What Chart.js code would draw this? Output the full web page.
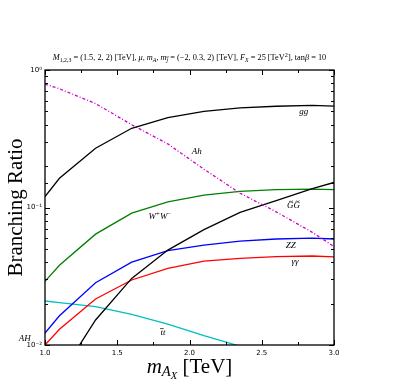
<!DOCTYPE html>
<html><head><meta charset="utf-8">
<script src="https://cdn.jsdelivr.net/npm/chart.js@4.4.1/dist/chart.umd.min.js"></script>
<style>html,body{margin:0;padding:0;background:#fff}#wrap{width:409px;height:389px}</style>
</head><body><div id="wrap"><canvas id="c" width="409" height="389"></canvas></div>
<script>
const masses = [1.0, 1.1, 1.35, 1.6, 1.85, 2.1, 2.35, 2.6, 2.85, 3.0];
const br_gg   = [0.12, 0.163, 0.27, 0.377, 0.45, 0.50, 0.53, 0.545, 0.553, 0.547];
const br_Ah   = [0.79, 0.73, 0.57, 0.40, 0.29, 0.19, 0.127, 0.093, 0.066, 0.052];
const br_GG   = [0.002, 0.0059, 0.0152, 0.0305, 0.049, 0.069, 0.092, 0.112, 0.137, 0.152];
const br_WW   = [0.029, 0.038, 0.064, 0.091, 0.110, 0.123, 0.131, 0.135, 0.136, 0.135];
const br_ZZ   = [0.0122, 0.0163, 0.0284, 0.040, 0.0485, 0.0533, 0.057, 0.059, 0.0598, 0.059];
const br_aa   = [0.0100, 0.013, 0.0216, 0.0297, 0.0361, 0.0408, 0.0427, 0.0439, 0.0444, 0.0437];
const br_tt   = [0.0209, 0.0203, 0.019, 0.0167, 0.0142, 0.0117, 0.0098, 0.008, 0.0065, 0.0058];
const yMajorLabels = {1: '10⁰', 0.1: '10⁻¹', 0.01: '10⁻²'};
// curve labels: [text segments, x (TeV), y (BR)]
const curveLabels = [
  [[['gg','i']], 2.79, 0.50],
  [[['Ah','i']], 2.05, 0.255],
  [[['G','i~'],['G','i~']], 2.72, 0.1025],
  [[['W','i'],['+','sup'],['W','i'],['−','sup']], 1.795, 0.0853],
  [[['ZZ','i']], 2.70, 0.0527],
  [[['γγ','i']], 2.73, 0.0402],
  [[['t','i-'],['t','i']], 1.816, 0.0123],
  [[['AH','i']], 0.86, 0.0112]
];

function pts(arr){ return masses.map((m,i)=>({x:m,y:arr[i]})); }
const SERIF = '"Liberation Serif", "DejaVu Serif", serif';

function drawRich(ctx, segs, cx, cy, size, align){
  const parts = segs.map(([t,st])=>{
    let fs=size, dy=0, it=false, acc=null;
    if(st==='i') it=true;
    if(st==='i~'){it=true; acc='~';}
    if(st==='i-'){it=true; acc='-';}
    if(st==='sub'||st==='subi'){fs=size*0.7; dy=size*0.25; it = st==='subi';}
    if(st==='subi~'){fs=size*0.7; dy=size*0.25; it=true; acc='~';}
    if(st==='sub2'){fs=size*0.5; dy=size*0.42; it=true;}
    if(st==='sup'){fs=size*0.75; dy=-size*0.35;}
    const font=(it?'italic ':'')+fs+'px '+SERIF;
    ctx.font=font;
    return {t,font,dy,fs,acc,w:ctx.measureText(t).width};
  });
  const total = parts.reduce((a,p)=>a+p.w,0);
  let x = align==='left'? cx : cx-total/2;
  ctx.textBaseline='middle'; ctx.textAlign='left'; ctx.fillStyle='#000'; ctx.strokeStyle='#000';
  for(const p of parts){
    ctx.font=p.font; ctx.fillText(p.t,x,cy+p.dy);
    if(p.acc){
      const ax = x + p.w*0.6;
      ctx.save(); ctx.lineWidth=0.7; ctx.beginPath();
      if(p.acc==='-'){ const ay = cy + p.dy - p.fs*0.45; ctx.moveTo(ax-p.fs*0.2,ay); ctx.lineTo(ax+p.fs*0.2,ay); }
      else {
        const ay = cy + p.dy - p.fs*0.52;
        const hw=p.fs*0.22, h=p.fs*0.07;
        ctx.moveTo(ax-hw,ay+h);
        ctx.bezierCurveTo(ax-hw*0.4,ay-h*2.5, ax+hw*0.0,ay+h*2.5, ax+hw,ay-h);
      }
      ctx.stroke(); ctx.restore();
    }
    x+=p.w;
  }
}

const extras = {
  id:'extras',
  afterDatasetsDraw(chart){
    const {ctx, chartArea:a, scales:{x,y}} = chart;
    ctx.save();
    ctx.strokeStyle='#000'; ctx.lineWidth=1;
    x.ticks.forEach(t=>{
      const px = Math.round(x.getPixelForValue(t.value))+0.5;
      const major = Math.abs(t.value*2-Math.round(t.value*2))<1e-6;
      const L = major?5:3;
      ctx.beginPath(); ctx.moveTo(px,a.bottom); ctx.lineTo(px,a.bottom-L);
      ctx.moveTo(px,a.top); ctx.lineTo(px,a.top+L); ctx.stroke();
    });
    y.ticks.forEach(t=>{
      const py = Math.round(y.getPixelForValue(t.value))+0.5;
      const major = yMajorLabels[t.value]!==undefined;
      const L = major?5:3;
      ctx.beginPath(); ctx.moveTo(a.left,py); ctx.lineTo(a.left+L,py);
      ctx.moveTo(a.right,py); ctx.lineTo(a.right-L,py); ctx.stroke();
    });
    ctx.lineWidth=1.3;
    ctx.strokeRect(a.left,a.top,a.right-a.left,a.bottom-a.top);
    curveLabels.forEach(([segs,mx,by])=>{
      drawRich(ctx, segs, x.getPixelForValue(mx), y.getPixelForValue(by), 9);
    });
    drawRich(ctx, [
      ['M','i'],['1,2,3','sub'],[' = (1.5, 2, 2) [TeV], ','r'],['μ','i'],[', ','r'],
      ['m','i'],['A','subi'],[', ','r'],['m','i'],['j','subi~'],[' = (−2, 0.3, 2) [TeV], ','r'],
      ['F','i'],['X','subi'],[' = 25 [TeV','r'],['2','sup'],['], tan','r'],['β','i'],[' = 10','r']
    ], (a.left+a.right)/2, 58, 8.3);
    drawRich(ctx, [['m','i'],['A','subi'],['X','sub2'],[' [TeV]','r']], (a.left+a.right)/2, 367, 21);
    ctx.translate(16, (a.top+a.bottom)/2);
    ctx.rotate(-Math.PI/2);
    ctx.font='21px '+SERIF; ctx.textAlign='center'; ctx.textBaseline='middle'; ctx.fillStyle='#000';
    ctx.fillText('Branching Ratio',0,0);
    ctx.restore();
  }
};

const ds = (label, arr, color, dash) => ({
  label, data: pts(arr), borderColor: color, backgroundColor: color,
  borderWidth: 1.3, pointRadius: 0, tension: 0, fill: false,
  borderDash: dash || []
});

new Chart(document.getElementById('c'), {
  type: 'line',
  data: { datasets: [
    ds('gg', br_gg, '#000000'),
    ds('Ah', br_Ah, '#cc00cc', [3,2,1,2]),
    ds('GG', br_GG, '#000000'),
    ds('WW', br_WW, '#008000'),
    ds('ZZ', br_ZZ, '#0000ff'),
    ds('aa', br_aa, '#ff0000'),
    ds('tt', br_tt, '#00bfbf')
  ]},
  options: {
    responsive: false, animation: false, devicePixelRatio: 1,
    layout: { padding: { left: 0, top: 70, right: 75, bottom: 0 } },
    plugins: { legend: { display: false }, tooltip: { enabled: false } },
    scales: {
      x: {
        type: 'linear', min: 1, max: 3,
        grid: { display: false, drawTicks: false },
        border: { display: false },
        afterFit(s){ s.height = 44; },
        ticks: {
          stepSize: 0.25, autoSkip: false, maxRotation: 0, padding: 4,
          color: '#000', font: { family: '"DejaVu Sans", sans-serif', size: 7 },
          callback(v){ return Math.abs(v*2-Math.round(v*2))<1e-6 ? v.toFixed(1) : ''; }
        }
      },
      y: {
        type: 'logarithmic', min: 0.01, max: 1,
        grid: { display: false, drawTicks: false },
        border: { display: false },
        afterFit(s){ s.width = 45; },
        ticks: {
          autoSkip: false, padding: 3,
          color: '#000', font: { family: '"DejaVu Sans", sans-serif', size: 7 },
          callback(v){ return yMajorLabels[v] !== undefined ? yMajorLabels[v] : ''; }
        }
      }
    }
  },
  plugins: [extras]
});
</script></body></html>
